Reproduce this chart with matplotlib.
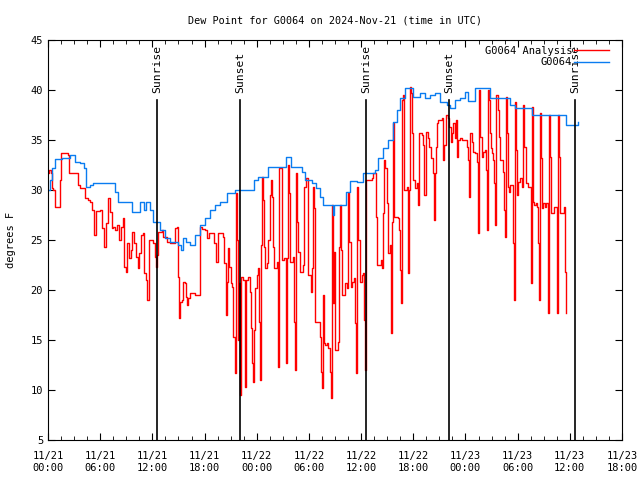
import matplotlib
matplotlib.use("Agg")
import matplotlib.pyplot as plt
from matplotlib.ticker import MultipleLocator

# hours since 2024-11-21 00:00 UTC
obs_hours = [0.0, 0.23, 0.46, 0.80, 1.61, 2.53, 3.11, 3.68, 4.14, 4.37, 4.83, 5.18, 7.71, 8.05,
             9.66, 10.58, 11.04, 11.27, 11.73, 12.08, 12.88, 13.46, 14.03, 14.95, 15.30, 15.53,
             15.87, 16.33, 16.91, 17.48, 18.06, 18.63, 19.21, 19.78, 20.59, 21.51, 23.46, 23.69,
             24.15, 25.30, 27.37, 27.94, 29.21, 29.56, 30.36, 30.82, 31.28, 31.63, 32.78, 32.89,
             34.27, 34.73, 35.54, 36.23, 37.61, 37.95, 38.53, 39.10, 39.68, 40.14, 40.48, 41.06,
             41.98, 42.78, 43.36, 43.93, 44.51, 45.08, 45.89, 46.23, 46.81, 47.38, 47.96, 48.30,
             49.11, 50.83, 53.13, 53.71, 55.66, 59.57, 60.95]
obs_dewp = [30.0, 31.0, 32.2, 33.1, 33.2, 33.5, 32.8, 32.7, 32.2, 30.3, 30.5, 30.7, 29.8, 28.8,
            27.8, 28.8, 28.0, 28.8, 28.0, 26.8, 26.0, 25.2, 24.8, 24.5, 24.0, 25.2,
            24.8, 24.5, 25.5, 26.5, 27.2, 28.0, 28.5, 28.8, 29.7, 30.0, 30.0, 31.0,
            31.3, 32.3, 33.3, 32.3, 31.8, 31.0, 30.7, 30.2, 29.3, 28.5, 27.5, 28.5,
            29.8, 30.9, 30.8, 31.7, 32.0, 33.2, 34.2, 35.0, 36.8, 38.0, 39.2, 40.2,
            39.3, 39.7, 39.2, 39.5, 39.7, 38.8, 38.5, 38.2, 39.0, 39.2, 39.8, 38.9,
            40.2, 39.2, 38.5, 38.2, 37.5, 36.5, 36.8]

ana_hours = [0.0, 0.12, 0.35, 0.46, 0.58, 0.80, 1.38, 1.50, 2.30, 2.42, 3.45, 3.68, 4.26, 4.60,
             4.83, 5.06, 5.29, 5.52, 5.98, 6.21, 6.44, 6.67, 6.90, 7.13, 7.36, 7.48, 7.71, 7.94,
             8.17, 8.40, 8.63, 8.74, 8.97, 9.09, 9.32, 9.55, 9.66, 9.89, 10.12, 10.35, 10.47,
             10.70, 10.93, 11.04, 11.27, 11.39, 11.62, 12.08, 12.31, 12.42, 12.54, 12.65, 13.11,
             13.23, 13.69, 14.03, 14.61, 14.84, 14.95, 15.07, 15.18, 15.41, 15.53, 15.76, 15.87,
             15.99, 16.10, 16.33, 16.91, 17.48, 17.71, 18.06, 18.29, 18.52, 19.09, 19.32, 19.55,
             20.13, 20.24, 20.47, 20.59, 20.70, 20.82, 21.05, 21.16, 21.28, 21.51, 21.62, 21.74,
             21.85, 21.97, 22.08, 22.20, 22.43, 22.66, 22.77, 23.00, 23.23, 23.35, 23.46, 23.58,
             23.69, 23.81, 24.04, 24.15, 24.27, 24.38, 24.50, 24.61, 24.73, 24.84, 24.96, 25.19,
             25.30, 25.53, 25.65, 25.76, 25.88, 25.99, 26.34, 26.45, 26.57, 26.91, 27.14, 27.37,
             27.49, 27.60, 27.72, 27.83, 28.18, 28.29, 28.41, 28.52, 28.64, 28.75, 28.98, 29.33,
             29.44, 29.67, 29.90, 30.25, 30.36, 30.48, 30.59, 30.71, 31.28, 31.40, 31.51, 31.63,
             31.74, 31.86, 32.09, 32.20, 32.43, 32.55, 32.66, 32.78, 32.89, 33.01, 33.35, 33.47,
             33.58, 33.70, 33.81, 34.16, 34.39, 34.50, 34.62, 34.85, 34.96, 35.19, 35.31, 35.42,
             35.54, 35.65, 35.88, 36.11, 36.23, 36.34, 36.46, 36.57, 37.26, 37.38, 37.72, 37.84,
             38.30, 38.41, 38.53, 38.64, 38.76, 38.99, 39.10, 39.33, 39.45, 39.56, 39.68, 39.79,
             40.25, 40.37, 40.48, 40.60, 40.71, 40.83, 40.94, 41.29, 41.40, 41.52, 41.63, 41.75,
             41.86, 41.98, 42.21, 42.44, 42.55, 42.67, 43.01, 43.13, 43.24, 43.47, 43.70, 43.82,
             44.05, 44.28, 44.39, 44.51, 44.62, 44.74, 44.85, 45.31, 45.43, 45.54, 45.77, 46.00,
             46.12, 46.35, 46.46, 46.58, 46.81, 46.92, 47.04, 47.15, 47.38, 47.61, 48.19, 48.30,
             48.42, 48.53, 48.76, 48.88, 49.11, 49.34, 49.45, 49.57, 49.68, 49.91, 50.03, 50.26,
             50.37, 50.49, 50.60, 50.72, 50.83, 50.95, 51.06, 51.18, 51.29, 51.41, 51.52, 51.75,
             51.87, 51.98, 52.33, 52.44, 52.56, 52.67, 52.79, 52.90, 53.02, 53.13, 53.48, 53.59,
             53.71, 53.82, 53.94, 54.05, 54.28, 54.51, 54.63, 54.74, 54.97, 55.20, 55.54, 55.66,
             55.78, 55.89, 56.12, 56.24, 56.35, 56.47, 56.58, 56.70, 56.81, 56.93, 57.16, 57.27,
             57.50, 57.62, 57.73, 57.85, 58.19, 58.54, 58.65, 58.77, 58.88, 59.11, 59.34, 59.46,
             59.57]
ana_dewp = [31.7, 32.0, 31.7, 30.2, 30.0, 28.3, 31.0, 33.7, 33.5, 31.7, 30.5, 30.2, 29.2, 29.0,
            28.8, 28.0, 25.5, 27.9, 28.0, 26.2, 24.3, 26.7, 29.2, 27.8, 26.2, 26.3, 26.0, 26.5,
            25.0, 26.3, 27.2, 22.3, 21.8, 24.7, 23.2, 24.0, 25.8, 24.7, 23.3, 22.2, 23.7,
            25.5, 25.7, 21.7, 21.0, 19.0, 25.0, 24.7, 23.3, 22.3, 23.5, 25.8, 26.0,
            25.3, 24.8, 24.7, 26.2, 26.3, 21.3, 17.2, 18.8, 19.0, 20.8, 20.7, 19.3,
            18.5, 19.2, 19.7, 19.5, 26.3, 26.1, 26.0, 25.2, 25.7, 24.7, 22.8, 25.7,
            25.3, 22.7, 17.5, 20.8, 24.2, 22.3, 20.7, 20.3, 15.3, 11.7, 29.7, 25.0,
            15.0, 20.7, 9.5, 21.3, 21.0, 10.3, 21.0, 21.3, 19.8, 16.2, 12.7, 10.8,
            16.0, 20.2, 21.5, 22.2, 16.8, 11.0, 24.5, 31.3, 29.0, 24.3, 22.2, 22.7,
            25.0, 29.5, 31.0, 29.3, 24.3, 22.2, 22.8, 12.3, 32.2, 23.0, 23.2, 12.7,
            23.2, 32.5, 29.7, 22.8, 23.3, 16.8, 12.0, 31.7, 26.8, 23.8, 21.8, 22.5,
            30.3, 31.2, 21.5, 19.8, 22.2, 30.3, 28.2, 16.8, 15.3, 11.8, 10.2, 19.5,
            14.7, 14.5, 14.7, 14.2, 11.8, 9.2, 28.5, 18.7, 23.8, 14.0, 14.8, 24.3,
            28.5, 24.0, 19.5, 20.7, 20.2, 29.7, 24.8, 20.3, 20.8, 21.2, 16.7, 11.7,
            30.3, 25.0, 20.8, 21.5, 21.7, 17.0, 12.0, 31.0, 31.2, 31.7, 27.3, 22.5,
            23.0, 22.2, 27.7, 33.0, 32.2, 28.7, 23.7, 24.5, 15.7, 26.8, 36.7, 27.3,
            27.2, 26.0, 22.0, 18.7, 39.0, 39.5, 30.0, 30.3, 21.7, 30.0, 40.3, 39.7,
            35.7, 31.0, 30.2, 30.7, 28.5, 35.7, 35.5, 34.5, 29.5, 35.8, 35.2, 34.3,
            33.2, 31.7, 27.0, 31.7, 34.3, 36.7, 37.0, 37.2, 33.0, 34.5, 37.5, 37.2,
            36.3, 34.8, 35.7, 36.7, 35.2, 37.0, 33.3, 35.0, 35.2, 35.0, 34.3, 33.0,
            29.3, 35.7, 34.8, 33.8, 33.7, 32.8, 25.7, 40.0, 35.3, 33.3, 33.8, 34.0,
            32.0, 26.0, 40.0, 39.0, 35.7, 34.2, 33.7, 33.0, 30.7, 26.5, 39.5, 38.0,
            35.3, 33.0, 31.8, 28.0, 25.3, 39.3, 35.7, 30.3, 29.8, 30.5, 24.7, 19.0,
            38.8, 34.0, 29.5, 30.8, 31.2, 30.3, 38.5, 34.3, 30.7, 30.3, 20.7, 38.3,
            28.8, 28.5, 28.7, 28.3, 24.7, 19.0, 37.7, 33.2, 28.2, 28.7, 28.3, 28.7,
            17.7, 37.5, 33.3, 27.7, 28.3, 17.7, 37.5, 33.3, 27.7, 27.7, 28.3, 21.8,
            17.7]

sun_hours = [12.53, 22.08, 36.56, 46.10, 60.60]
sun_labels = ["Sunrise", "Sunset", "Sunrise", "Sunset", "Sunrise"]

tick_hours = list(range(0, 67, 6))
tick_labels = ["11/21\n00:00", "11/21\n06:00", "11/21\n12:00", "11/21\n18:00",
               "11/22\n00:00", "11/22\n06:00", "11/22\n12:00", "11/22\n18:00",
               "11/23\n00:00", "11/23\n06:00", "11/23\n12:00", "11/23\n18:00"]

plt.rcParams['font.family'] = ['DejaVu Sans Mono']
plt.rcParams['font.size'] = 7.5

fig = plt.figure(figsize=(6.4, 4.8), dpi=100)
ax = fig.add_axes([48 / 640, 40 / 480, 574 / 640, 400 / 480])

ax.plot(ana_hours, ana_dewp, color='#ff0000', lw=1.0, drawstyle='steps-post', label='G0064 Analysis')
ax.plot(obs_hours, obs_dewp, color='#0a7cf0', lw=1.0, drawstyle='steps-post', label='G0064')

for h, lab in zip(sun_hours, sun_labels):
    ax.plot([h, h], [5, 39.0], color='black', lw=1.2)
    ax.text(h, 39.7, lab, rotation=90, ha='center', va='bottom', fontsize=8.2)

ax.set_xlim(0, 66)
ax.set_ylim(5, 45)
ax.set_xticks(tick_hours)
ax.set_xticklabels(tick_labels)
ax.xaxis.set_minor_locator(MultipleLocator(1.5))
ax.yaxis.set_major_locator(MultipleLocator(5))
ax.tick_params(which='both', direction='in', top=True, right=True)
ax.tick_params(which='major', length=5)
ax.tick_params(axis='x', which='major', pad=8)
ax.tick_params(which='minor', length=3)
ax.set_ylabel('degrees F')
ax.yaxis.set_label_coords(-0.055, 0.5)
ax.set_title('Dew Point for G0064 on 2024-Nov-21 (time in UTC)', fontsize=7.3, pad=12)

ax.legend(loc='upper right', bbox_to_anchor=(0.984, 0.996), frameon=False, markerfirst=False,
          handlelength=3.3, handletextpad=0.2, labelspacing=0.15, borderaxespad=0.0, fontsize=7.5)

fig.savefig('out.png', dpi=100)
